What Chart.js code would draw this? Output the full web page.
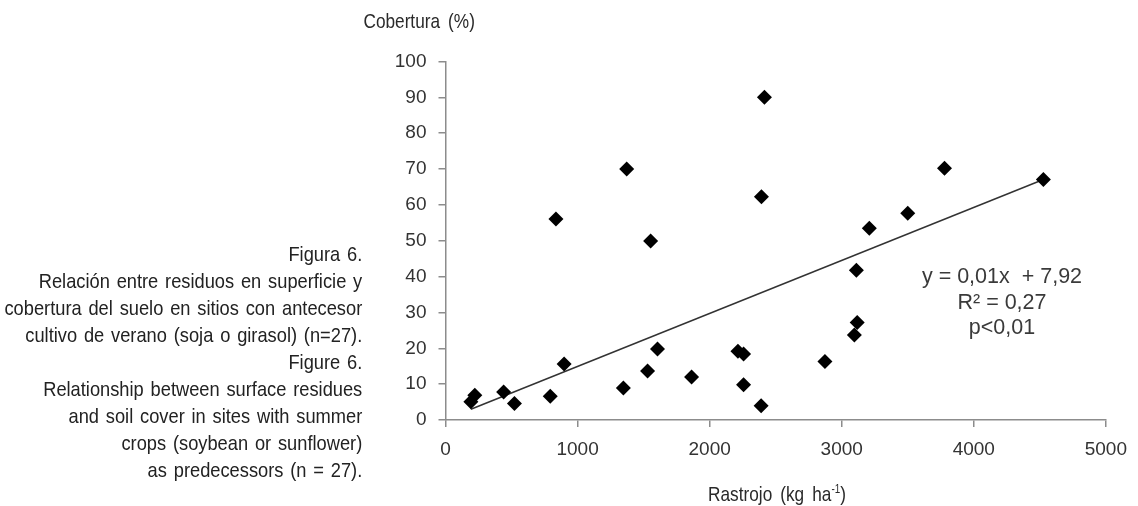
<!DOCTYPE html>
<html>
<head>
<meta charset="utf-8">
<script src="https://cdn.jsdelivr.net/npm/chart.js@4.4.1/dist/chart.umd.min.js"></script>
<style>
  body { margin: 0; background: #fff; }
  #wrap { position: relative; width: 1138px; height: 506px; overflow: hidden; }
  #plot { position: absolute; left: 0; top: 0; }
  .txt { position: absolute; font-family: "Liberation Sans", Arial, sans-serif; color: #2a2a2a; white-space: nowrap; }
  #caption { right: 776px; top: 239.5px; text-align: right; font-size: 21px; line-height: 27.1px; word-spacing: 2px;
             color: #222; transform: scaleX(0.87); transform-origin: right top; }
  #ytitle { right: 663px; top: 10px; font-size: 21px; line-height: 22px; word-spacing: 4px;
            transform: scaleX(0.82); transform-origin: right top; }
  #xtitle { left: 677px; width: 200px; text-align: center; top: 483px; font-size: 21px; line-height: 22px; word-spacing: 4px;
            transform: scaleX(0.82); transform-origin: center top; }
  #xtitle sup { font-size: 12px; vertical-align: 8px; line-height: 0; }
  #eq { left: 902px; top: 264px; width: 200px; text-align: center; font-size: 21.5px; line-height: 25.5px; color: #3a3a3a; }
</style>
</head>
<body>
<div id="wrap">
  <canvas id="plot" width="1138" height="506"></canvas>
  <div class="txt" id="ytitle">Cobertura (%)</div>
  <div class="txt" id="xtitle">Rastrojo (kg ha<sup>-1</sup>)</div>
  <div class="txt" id="eq">y = 0,01x &nbsp;+ 7,92<br>R² = 0,27<br>p&lt;0,01</div>
  <div class="txt" id="caption">Figura 6.<br>Relación entre residuos en superficie y<br>cobertura del suelo en sitios con antecesor<br>cultivo de verano (soja o girasol) (n=27).<br>Figure 6.<br>Relationship between surface residues<br>and soil cover in sites with summer<br>crops (soybean or sunflower)<br>as predecessors (n = 27).</div>
</div>
<script>
// residue (kg/ha) vs soil cover (%)
let residue = [192, 222, 440, 522, 793, 898, 1347, 1530, 1605, 1863, 2214, 2257, 2257, 2390,
               836, 1372, 1553, 2392, 2415, 3778, 4527, 3500, 3209, 3111, 3117, 3096, 2873];
let cover = [5.1, 6.9, 7.8, 4.6, 6.6, 15.6, 8.9, 13.7, 19.8, 12.0, 19.2, 18.4, 9.8, 4.0,
             56.1, 70.0, 49.9, 62.3, 90.0, 70.2, 67.1, 57.7, 53.5, 41.8, 27.2, 23.7, 16.3];

// fitted line ends as drawn
let trendX = [192, 4527];
let trendY = [3.0, 67.1];

let xTicks = [0, 1000, 2000, 3000, 4000, 5000];
let yTicks = [0, 10, 20, 30, 40, 50, 60, 70, 80, 90, 100];

let axisGrey = '#8c8c8c';
let tickFont = { family: '"Liberation Sans", Arial, sans-serif', size: 19 };

let ctx = document.getElementById('plot').getContext('2d');
let chart = new Chart(ctx, {
    type: 'scatter',
    data: {
        datasets: [{
            label: 'Cobertura',
            data: residue.map((r, i) => ({ x: r, y: cover[i] })),
            pointStyle: 'rectRot',
            pointRadius: 7.5,
            pointHoverRadius: 7.5,
            backgroundColor: '#000',
            borderColor: '#000',
            borderWidth: 0,
            order: 1
        }, {
            type: 'line',
            label: 'Tendencia',
            data: trendX.map((t, i) => ({ x: t, y: trendY[i] })),
            borderColor: '#333',
            borderWidth: 1.5,
            pointRadius: 0,
            fill: false,
            order: 2
        }]
    },
    options: {
        responsive: false,
        devicePixelRatio: 1,
        animation: false,
        layout: { padding: { left: 370, right: 28, top: 61.5, bottom: 30 } },
        scales: {
            x: {
                type: 'linear',
                min: 0,
                max: 5000,
                afterBuildTicks: scale => { scale.ticks = xTicks.map(v => ({ value: v })); },
                afterFit: scale => { scale.height = 56; },
                ticks: { font: tickFont, color: '#333', padding: 11, maxRotation: 0, callback: v => String(v) },
                grid: { drawOnChartArea: false, drawTicks: true, tickLength: 7, color: axisGrey, lineWidth: 1.5 },
                border: { color: axisGrey, width: 1.5 }
            },
            y: {
                min: 0,
                max: 100,
                afterBuildTicks: scale => { scale.ticks = yTicks.map(v => ({ value: v })); },
                afterFit: scale => { scale.width = 75.5; },
                ticks: { font: tickFont, color: '#333', padding: 12, callback: v => String(v) },
                grid: { drawOnChartArea: false, drawTicks: true, tickLength: 7, color: axisGrey, lineWidth: 1.5 },
                border: { color: axisGrey, width: 1.5 }
            }
        },
        plugins: {
            legend: { display: false },
            tooltip: { enabled: false }
        }
    }
});
</script>
</body>
</html>
